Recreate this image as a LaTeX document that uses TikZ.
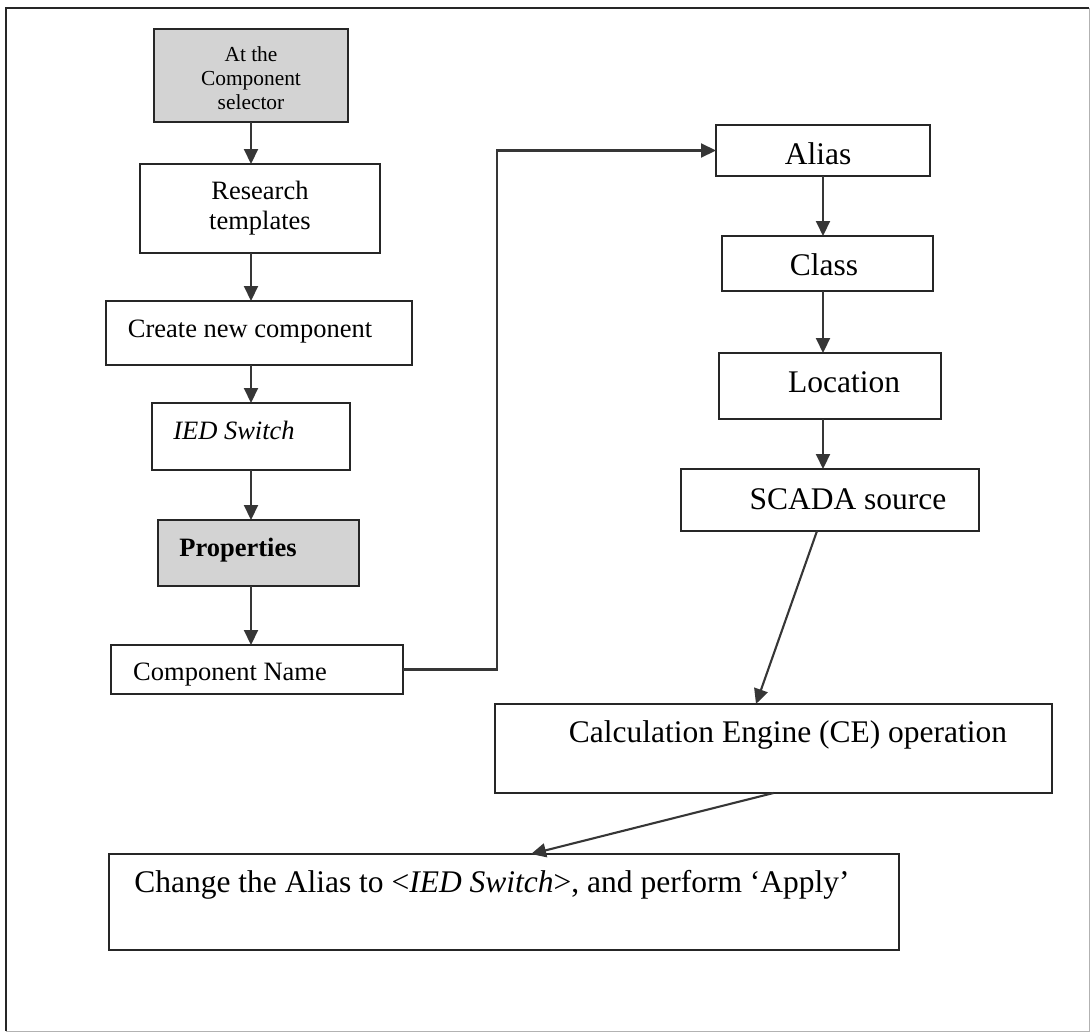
\documentclass[tikz,border=0pt]{standalone}
\usepackage{fontspec}
\setmainfont{Liberation Serif}
\usetikzlibrary{arrows.meta,calc}
\definecolor{ink}{HTML}{262626}
\definecolor{arrowink}{HTML}{363636}
\definecolor{shade}{HTML}{D3D3D3}
\begin{document}
\begin{tikzpicture}[x=1pt,y=-1pt,
  box/.style={draw=ink, line width=2.1pt, rectangle, inner sep=0pt, outer sep=0pt},
  shaded/.style={box, fill=shade},
  lfont/.style={font=\fontsize{26.5}{30}\selectfont},
  rfont/.style={font=\fontsize{31.5}{36}\selectfont},
  tfont/.style={font=\fontsize{21.4}{24}\selectfont},
  lbase/.style={lfont, text height=18.55pt, text depth=5.3pt, anchor=center},
  rbase/.style={rfont, text height=22.05pt, text depth=6.3pt, anchor=center},
  arr/.style={draw=arrowink, line width=2.1pt, -{Triangle[length=15pt,width=14pt]}},
]
\useasboundingbox (0,0) rectangle (1091,1033);
% outer frame
\draw[draw=ink, line width=1.8pt] (6,1031) -- (6,8) -- (1089,8);
\draw[draw=black!30, line width=1pt] (1089,8) -- (1089,1031) -- (6,1031);

% left column
\node[shaded, minimum width=194pt, minimum height=93pt,
  label={[tfont, align=center, anchor=center, yshift=-2.5pt]center:{At the\\Component\\selector}}] (top) at (251,75.5) {};
\node[box, minimum width=240pt, minimum height=89pt,
  label={[lfont, align=center, anchor=center, yshift=0.5pt]center:{Research\\templates}}] (research) at (260,208.5) {};
\node[box, minimum width=306pt, minimum height=64pt,
  label={[lbase, xshift=-9pt, yshift=2.6pt]center:{Create new component}}] (create) at (259,333) {};
\node[box, minimum width=198pt, minimum height=67pt,
  label={[lbase, xshift=-17pt, yshift=4.1pt]center:{\textit{IED Switch}}}] (ied) at (251,436.5) {};
\node[shaded, minimum width=201pt, minimum height=66pt,
  label={[lbase, xshift=-20.5pt, yshift=3.6pt]center:{\textbf{Properties}}}] (prop) at (258.5,553) {};
\node[box, minimum width=292pt, minimum height=49pt,
  label={[lbase, xshift=-27pt, yshift=-3.9pt]center:{Component Name}}] (cname) at (257,669.5) {};

% right column
\node[box, minimum width=214pt, minimum height=51pt,
  label={[rbase, xshift=-5pt, yshift=-6.6pt]center:{Alias}}] (alias) at (823,150.5) {};
\node[box, minimum width=211pt, minimum height=55pt,
  label={[rbase, xshift=-3.5pt, yshift=-4.6pt]center:{Class}}] (class) at (827.5,263.5) {};
\node[box, minimum width=222pt, minimum height=66pt,
  label={[rbase, xshift=14pt, yshift=0.9pt]center:{Location}}] (location) at (830,386) {};
\node[box, minimum width=298pt, minimum height=62pt,
  label={[rbase, xshift=18pt, yshift=-2.1pt]center:{SCADA source}}] (scada) at (830,500) {};
\node[box, minimum width=557pt, minimum height=89pt,
  label={[rbase, xshift=14.5pt, yshift=13.4pt]center:{Calculation Engine (CE) operation}}] (ce) at (773.5,748.5) {};
\node[box, minimum width=790pt, minimum height=96pt,
  label={[rbase, xshift=-12pt, yshift=16.9pt]center:{Change the Alias to <\textit{IED Switch}>, and perform ‘Apply’}}] (change) at (504,902) {};

% connectors
\draw[arr] (top.south) -- (top.south |- research.north);
\draw[arr] (research.south -| top.south) -- (create.north -| top.south);
\draw[arr] (create.south -| ied.south) -- (ied.north);
\draw[arr] (ied.south) -- (ied.south |- prop.north);
\draw[arr] (prop.south -| ied.south) -- (ied.south |- cname.north);
\draw[arr] (cname.east) -- ++(94,0) |- (alias.west);
\draw[arr] (alias.south) -- (alias.south |- class.north);
\draw[arr] (class.south -| alias.south) -- (alias.south |- location.north);
\draw[arr] (location.south -| alias.south) -- (alias.south |- scada.north);
\draw[arr] ($(scada.south)+(-13,0)$) -- ($(ce.north)+(-17.5,0)$);
\draw[arr] (ce.south) -- ($(change.north)+(27,0)$);
\end{tikzpicture}
\end{document}
